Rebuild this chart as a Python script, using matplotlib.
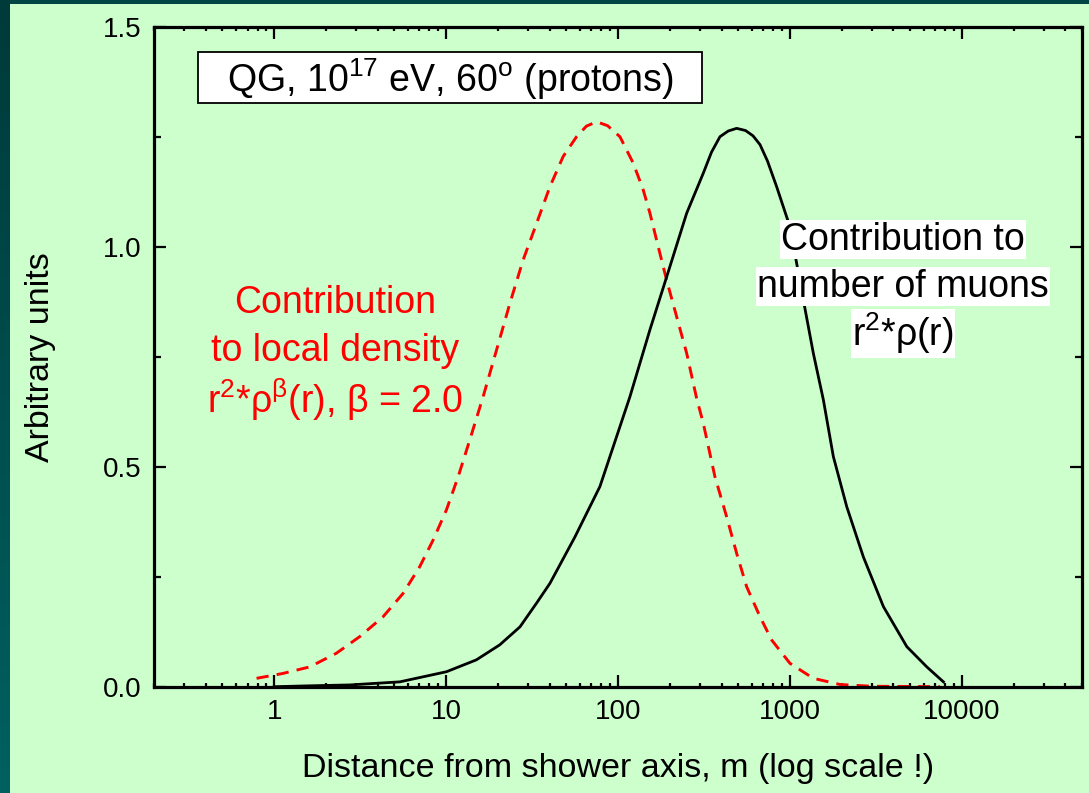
import numpy as np
import matplotlib
matplotlib.use('Agg')
import matplotlib.pyplot as plt
from matplotlib.patches import Rectangle
from matplotlib.ticker import MultipleLocator, LogLocator, FixedLocator

plt.rcParams['font.family'] = ['Liberation Sans', 'DejaVu Sans']
plt.rcParams['mathtext.fontset'] = 'custom'
plt.rcParams['mathtext.rm'] = 'Liberation Sans'
plt.rcParams['mathtext.it'] = 'Liberation Sans:italic'
plt.rcParams['mathtext.default'] = 'rm'

# Contribution to local density, r^2*rho^beta(r) (red dashed)
r_dens = [0.79, 1.12, 1.61, 2.3, 3.15, 4.3, 5.62, 7.03, 8.4, 10.05, 11.75,
          13.74, 16.42, 19.65, 23.49, 28.07, 33.6, 40.14, 47.97, 57.41, 65.5,
          75.07, 87.0, 102.6, 122.6, 140.2, 153.4, 171.4, 191.8, 219.3, 250.8,
          286.8, 313.3, 366.4, 428.6, 490.0, 560.4, 669.9, 783.4, 1001.0,
          1368.0, 1957.0, 3000.0, 7475.0]
y_dens = [0.019, 0.030, 0.045, 0.076, 0.114, 0.159, 0.212, 0.273, 0.333,
          0.402, 0.477, 0.561, 0.659, 0.765, 0.871, 0.970, 1.053, 1.136,
          1.205, 1.250, 1.274, 1.284, 1.275, 1.250, 1.190, 1.129, 1.076,
          1.000, 0.924, 0.841, 0.758, 0.655, 0.599, 0.477, 0.386, 0.303,
          0.227, 0.159, 0.106, 0.053, 0.019, 0.005, 0.001, 0.0]

# Contribution to number of muons, r^2*rho(r) (black solid)
r_num = [1.0, 1.6, 2.75, 5.38, 10.05, 15.0, 20.5, 26.9, 33.6, 40.2, 56.1,
         78.5, 117.3, 153.3, 200.5, 250.8, 313.3, 350.0, 391.8, 438.0, 490.0,
         552.0, 610.0, 669.9, 740.0, 837.8, 1001.0, 1197.0, 1368.0, 1565.0,
         1789.0, 2141.0, 2674.0, 3498.0, 4786.0, 6256.0, 7815.0]
y_num = [0.0, 0.002, 0.004, 0.011, 0.034, 0.061, 0.095, 0.136, 0.190,
         0.235, 0.340, 0.455, 0.659, 0.811, 0.955, 1.076, 1.167, 1.215,
         1.250, 1.263, 1.269, 1.264, 1.252, 1.232, 1.195, 1.136, 1.045,
         0.879, 0.758, 0.652, 0.523, 0.409, 0.295, 0.182, 0.091, 0.045,
         0.011]

x_ticks = [1, 10, 100, 1000, 10000]
x_tick_labels = ['1', '10', '100', '1000', '10000']
y_ticks = [0.0, 0.5, 1.0, 1.5]
y_tick_labels = ['0.0', '0.5', '1.0', '1.5']

fig = plt.figure(figsize=(10.89, 7.93), dpi=100)
fig.patch.set_facecolor('#004444')

# dark teal strip on the left, slightly lighter towards the bottom
strip = fig.add_axes([0, 0, 10 / 1089, 1])
strip.imshow(np.linspace(0, 1, 100).reshape(-1, 1), aspect='auto',
             cmap=matplotlib.colors.LinearSegmentedColormap.from_list(
                 'teal', ['#003a3a', '#006060']))
strip.axis('off')

# light green slide area
bg = fig.add_axes([10 / 1089, 0, 1 - 10 / 1089, 1 - 4 / 793])
bg.set_facecolor('#ccffcc')
bg.set_xticks([])
bg.set_yticks([])
for s in bg.spines.values():
    s.set_visible(False)

ax = fig.add_axes([154 / 1089, 106.3 / 793, 928 / 1089, 660 / 793])
ax.set_facecolor('none')

ax.plot(r_dens, y_dens, color='red', lw=2.1, ls=(0, (4.2, 2.8)))
ax.plot(r_num, y_num, color='black', lw=2.0)

ax.set_xscale('log')
ax.set_xlim(0.2, 50000)
ax.set_ylim(0, 1.5)

ax.xaxis.set_major_locator(FixedLocator(x_ticks))
ax.set_xticklabels(x_tick_labels)
ax.xaxis.set_minor_locator(LogLocator(base=10, subs=np.arange(2, 10)))
ax.set_yticks(y_ticks)
ax.set_yticklabels(y_tick_labels)
ax.yaxis.set_minor_locator(MultipleLocator(0.25))

ax.tick_params(which='both', direction='in', top=True, right=True,
               labelsize=20, width=1.6, pad=9)
ax.tick_params(which='major', length=8.5)
ax.tick_params(axis='x', which='minor', length=3)
ax.tick_params(axis='y', which='minor', length=5)
for s in ax.spines.values():
    s.set_linewidth(2.3)

ax.set_xlabel('Distance from shower axis, m (log scale !)', fontsize=24.5,
              labelpad=20)
ax.set_ylabel('Arbitrary units', fontsize=24.5, labelpad=34)

# title box
ax.add_patch(Rectangle((0.0474, 0.884), 0.5431, 0.0777,
                       transform=ax.transAxes, facecolor='white',
                       edgecolor='black', lw=1.3, zorder=3))
ax.text(0.319, 0.921, 'QG, 10$^{17}$ eV, 60$^{\\mathrm{o}}$ (protons)',
        transform=ax.transAxes, fontsize=27, va='center', ha='center',
        zorder=4)

red_lines = ['Contribution', 'to local density',
             'r$^2$*ρ$^{β}$(r), β = 2.0']
for i, t in enumerate(red_lines):
    ax.text(0.195, 0.581 - i * 0.073, t, transform=ax.transAxes,
            color='red', fontsize=27, ha='center', va='center')

black_lines = ['Contribution to', 'number of muons', 'r$^2$*ρ(r)']
for i, t in enumerate(black_lines):
    ax.text(0.807, 0.677 - i * 0.071, t, transform=ax.transAxes,
            color='black', fontsize=27, ha='center', va='center',
            bbox=dict(facecolor='white', edgecolor='none', pad=1.0))

fig.savefig('out.png', dpi=100, facecolor=fig.get_facecolor())
